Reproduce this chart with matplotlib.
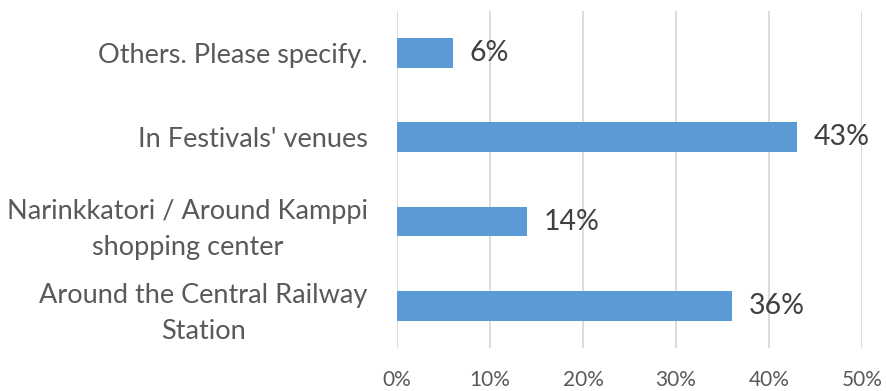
import matplotlib
matplotlib.use("Agg")
import matplotlib.pyplot as plt
from matplotlib.ticker import FuncFormatter

plt.rcParams['font.family'] = ['Lato', 'DejaVu Sans']

categories = [
    "Around the Central Railway\nStation",
    "Narinkkatori / Around Kamppi\nshopping center",
    "In Festivals' venues",
    "Others. Please specify.",
]
shares = [0.36, 0.14, 0.43, 0.06]
x_ticks = [0.0, 0.1, 0.2, 0.3, 0.4, 0.5]

bar_color = "#5B9BD5"
grid_color = "#D9D9D9"

fig = plt.figure(figsize=(8.86, 3.91), dpi=100)
ax = fig.add_axes([0.448, 0.110, 0.525, 0.862])

ypos = range(len(categories))
bars = ax.barh(ypos, shares, height=0.353, color=bar_color, zorder=3)

for rect, v in zip(bars, shares):
    ax.annotate(f"{v:.0%}", (rect.get_width(), rect.get_y() + rect.get_height() / 2),
                xytext=(12, 0), textcoords="offset points", va="center", ha="left",
                fontsize=20.5, color="#404040")

ax.set_xlim(0, 0.5)
ax.set_ylim(-0.5, len(categories) - 0.5)
ax.set_xticks(x_ticks)
ax.xaxis.set_major_formatter(FuncFormatter(lambda v, _: f"{v:.0%}"))
ax.set_yticks(list(ypos))
ax.set_yticklabels(categories)
for lbl in ax.get_yticklabels():
    lbl.set_multialignment("center")
    lbl.set_linespacing(1.55)

ax.grid(axis="x", color=grid_color, linewidth=1.3, zorder=0)
for side in ["top", "right", "bottom", "left"]:
    ax.spines[side].set_visible(False)
ax.tick_params(axis="both", length=0)
ax.tick_params(axis="x", labelsize=15, labelcolor="#595959", pad=16)
ax.tick_params(axis="y", labelsize=19.5, labelcolor="#595959", pad=21)

fig.savefig("out.png", dpi=100)
